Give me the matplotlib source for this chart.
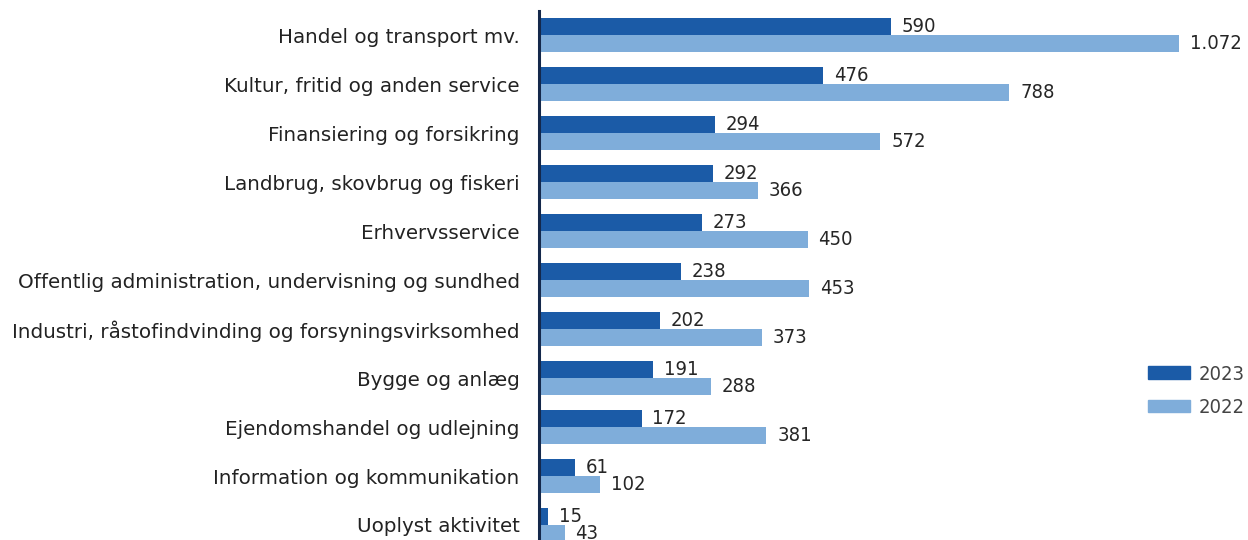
import numpy as np
import matplotlib
matplotlib.use("Agg")
import matplotlib.pyplot as plt
from matplotlib.patches import Patch

# data
categories = [
    "Handel og transport mv.",
    "Kultur, fritid og anden service",
    "Finansiering og forsikring",
    "Landbrug, skovbrug og fiskeri",
    "Erhvervsservice",
    "Offentlig administration, undervisning og sundhed",
    "Industri, råstofindvinding og forsyningsvirksomhed",
    "Bygge og anlæg",
    "Ejendomshandel og udlejning",
    "Information og kommunikation",
    "Uoplyst aktivitet",
]
values_2023 = [590, 476, 294, 292, 273, 238, 202, 191, 172, 61, 15]
values_2022 = [1072, 788, 572, 366, 450, 453, 373, 288, 381, 102, 43]
series_labels = ["2023", "2022"]

dark = "#1B5BA7"
light = "#7FADDA"
num_font = {"family": "DejaVu Sans", "stretch": "condensed", "size": 14.5}


def fmt(v):
    # danish thousands separator
    return "{:,}".format(v).replace(",", ".")


W, H = 1248, 540
fig = plt.figure(figsize=(W / 100, H / 100), dpi=100)
ax = fig.add_axes([539 / W, 0, (W - 539) / W, (540 - 11) / H])

y = np.arange(len(categories))
h = 0.34
ax.barh(y - h / 2, values_2023, height=h, color=dark)
ax.barh(y + h / 2, values_2022, height=h, color=light)

ax.set_xlim(0, 709 / 0.597)
ax.set_ylim((540 - 35) / 49, -(35 - 11) / 49)

for i, (a, b) in enumerate(zip(values_2023, values_2022)):
    ax.text(a + 18, i - h / 2, fmt(a), va="center", ha="left",
            fontproperties=num_font, color="#262626")
    ax.text(b + 18, i + h / 2, fmt(b), va="center", ha="left",
            fontproperties=num_font, color="#262626")

ax.set_yticks(y)
ax.set_yticklabels(categories, fontsize=14.3, color="#222222")
ax.tick_params(axis="y", length=0, pad=14)
ax.set_xticks([])

for s in ["top", "right", "bottom"]:
    ax.spines[s].set_visible(False)
ax.spines["left"].set_color("#14284B")
ax.spines["left"].set_linewidth(2.2)

handles = [Patch(color=dark), Patch(color=light)]
leg = fig.legend(handles, series_labels, loc="center left",
                 bbox_to_anchor=(1130 / W, 1 - 391 / H), frameon=False,
                 handlelength=2.1, handleheight=0.6, labelspacing=0.7,
                 handletextpad=0.4, prop=num_font)
for t in leg.get_texts():
    t.set_color("#444444")

fig.savefig("out.png", dpi=100)
